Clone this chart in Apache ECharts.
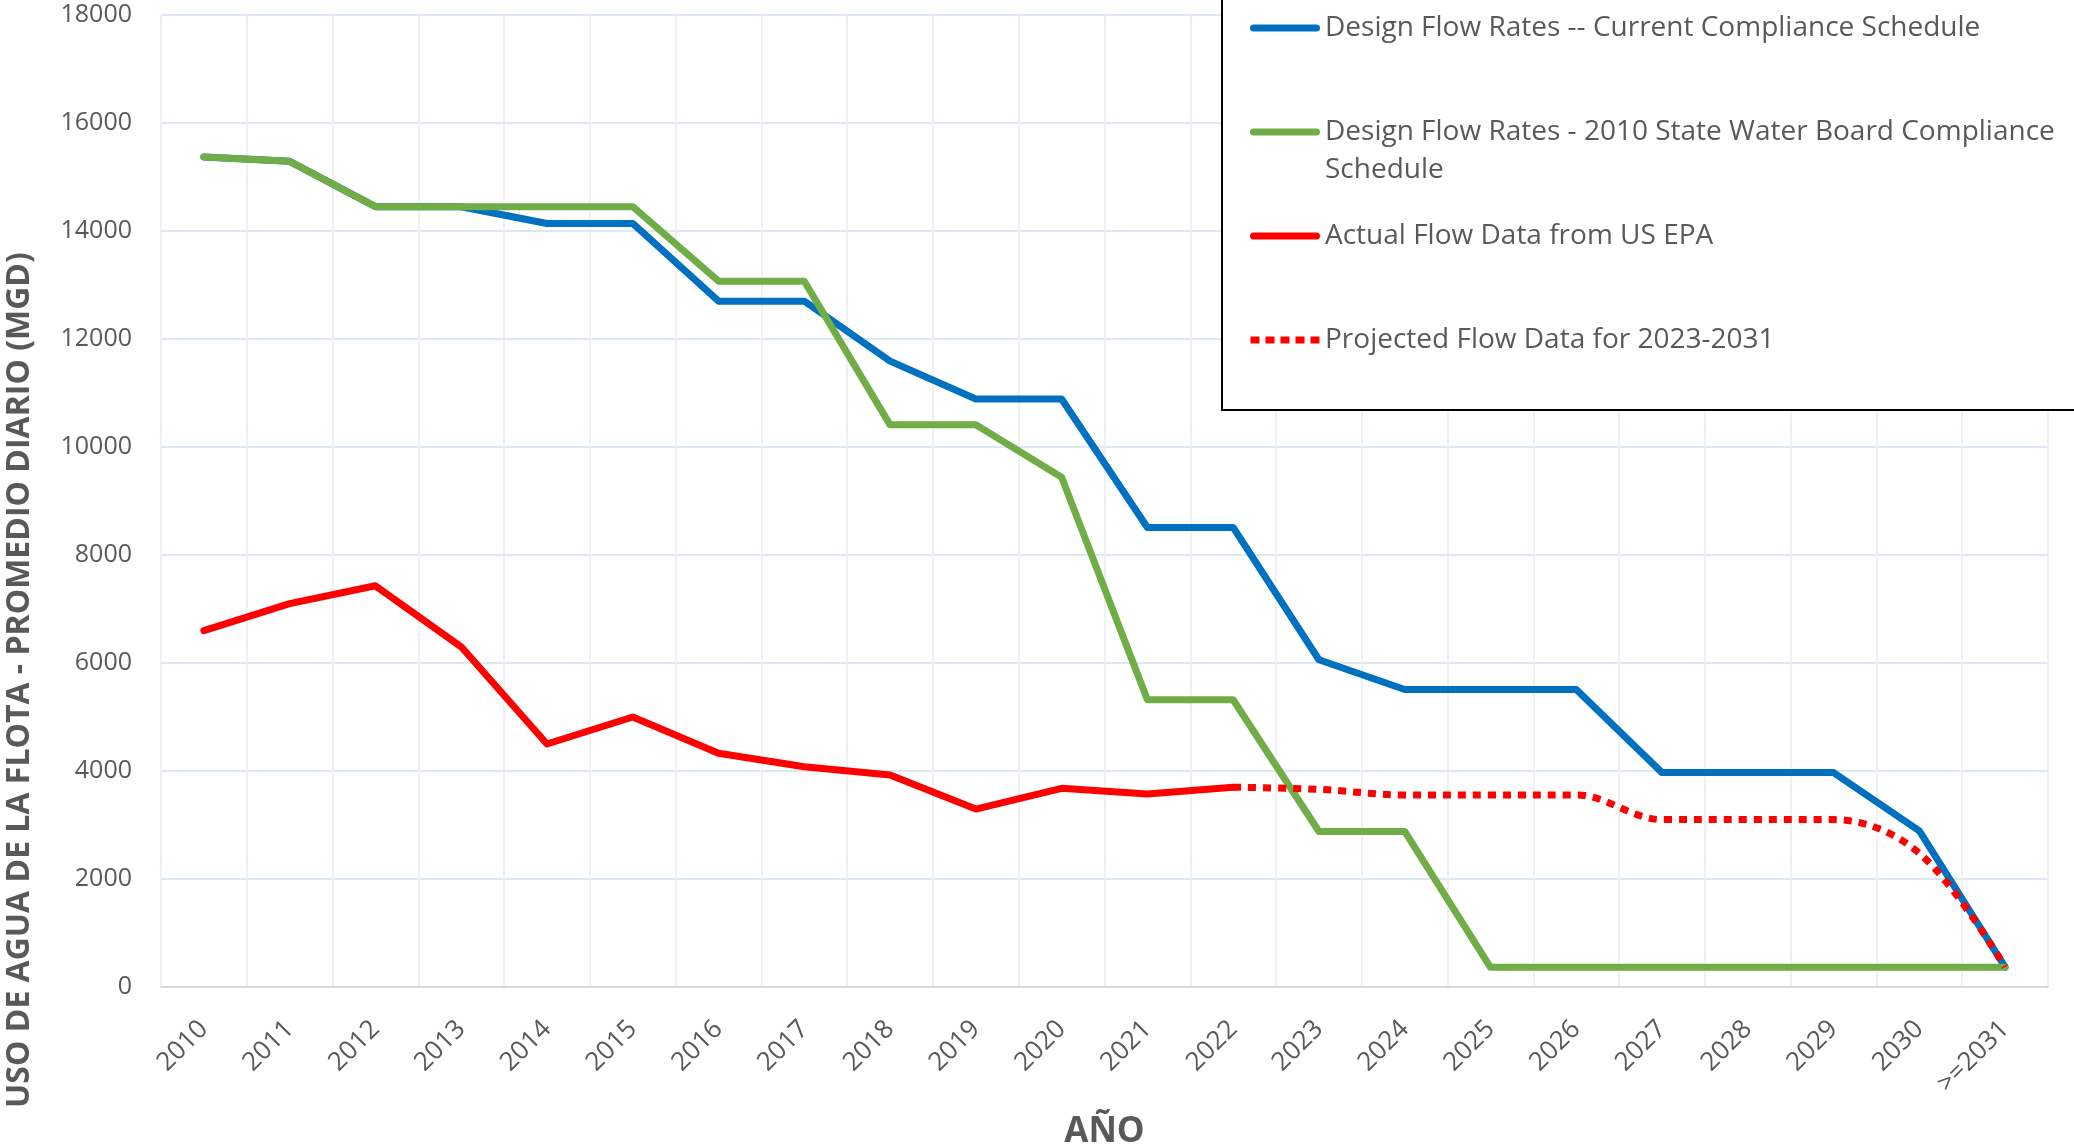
<!DOCTYPE html>
<html>
<head>
<meta charset="utf-8">
<script src="https://cdn.jsdelivr.net/npm/echarts@6/dist/echarts.min.js"></script>
<style>
  html, body { margin: 0; padding: 0; background: #fff; }
  #chart { width: 2074px; height: 1148px; }
</style>
</head>
<body>
<div id="chart"></div>
<script>
const years = ["2010", "2011", "2012", "2013", "2014", "2015", "2016", "2017", "2018", "2019", "2020",
  "2021", "2022", "2023", "2024", "2025", "2026", "2027", "2028", "2029", "2030", ">=2031"];

const currentSchedule = [15370, 15290, 14450, 14450, 14140, 14140, 12700, 12700, 11590, 10890, 10890,
  8510, 8510, 6060, 5510, 5510, 5510, 3970, 3970, 3970, 2890, 370];

const stateBoard2010 = [15370, 15290, 14450, 14450, 14450, 14450, 13070, 13070, 10410, 10410, 9440,
  5320, 5320, 2880, 2880, 365, 365, 365, 365, 365, 365, 365];

const actualEpa = [6600, 7100, 7430, 6300, 4500, 5000, 4330, 4080, 3925, 3295, 3680,
  3575, 3700, null, null, null, null, null, null, null, null, null];

const projected = [null, null, null, null, null, null, null, null, null, null, null,
  null, 3700, 3660, 3556, 3556, 3556, 3100, 3100, 3100, 2476, 370];

const names = [
  "Design Flow Rates -- Current Compliance Schedule",
  "Design Flow Rates - 2010 State Water Board Compliance Schedule",
  "Actual Flow Data from US EPA",
  "Projected Flow Data for 2023-2031"
];

const textColor = "#595959";
const font = "'Open Sans', 'Liberation Sans', sans-serif";
const lineW = 7;

// legend icons: rounded bar for solid lines, square dots for the projected one
const solidIcon = "path://M3.5,0H66.5A3.5,3.5,0,0,1,66.5,7H3.5A3.5,3.5,0,0,1,3.5,0Z";
const dotIcon = "path://M0,0H9V7H0Z M15,0H24V7H15Z M30,0H39V7H30Z M45,0H54V7H45Z M60,0H69V7H60Z";

// every legend entry is 3 lines tall so entries sit at an even pitch,
// the wrapped one uses its blank first line so the icon lines up with its first text line
const onePad = { padding: [38, 0, 38, 0] };

const chart = echarts.init(document.getElementById("chart"));

chart.setOption({
  animation: false,
  grid: { left: 161, right: 26, top: 15, bottom: 161, outerBoundsMode: "none" },
  xAxis: {
    type: "category",
    data: years,
    boundaryGap: true,
    name: "AÑO",
    nameLocation: "middle",
    nameGap: 128,
    nameTextStyle: { color: textColor, fontFamily: font, fontWeight: "bold", fontSize: 35 },
    axisLine: { show: true, lineStyle: { color: "#d9d9d9", width: 2 } },
    axisTick: { show: false },
    axisLabel: {
      interval: 0,
      rotate: 45,
      margin: 38,
      color: textColor,
      fontFamily: font,
      fontSize: 26
    },
    splitLine: { show: true, lineStyle: { color: "#ececf0", width: 1.5 } }
  },
  yAxis: {
    type: "value",
    min: 0,
    max: 18000,
    interval: 2000,
    axisLine: { show: false },
    axisTick: { show: false },
    axisLabel: {
      margin: 29,
      color: textColor,
      fontFamily: font,
      fontSize: 25,
      formatter: (v) => String(v)
    },
    splitLine: { lineStyle: { color: "#d3e0ef", width: 1.5 } }
  },
  legend: {
    orient: "vertical",
    left: 1222,
    top: -29,
    padding: [0, 120, 13, 28],
    itemGap: -10,
    itemWidth: 70,
    itemHeight: 7,
    z: 20,
    backgroundColor: "#fff",
    borderColor: "#000",
    borderWidth: 2,
    borderRadius: 0,
    data: [
      { name: names[0], icon: solidIcon, textStyle: onePad },
      { name: names[1], icon: solidIcon },
      { name: names[2], icon: solidIcon, textStyle: onePad },
      { name: names[3], icon: dotIcon, textStyle: onePad }
    ],
    formatter: (n) => n === names[1]
      ? "\nDesign Flow Rates - 2010 State Water Board Compliance\nSchedule"
      : n,
    textStyle: {
      color: textColor,
      fontFamily: font,
      fontSize: 28,
      lineHeight: 38
    }
  },
  graphic: [{
    type: "text",
    x: 20,
    y: 680,
    rotation: Math.PI / 2,
    style: {
      text: "USO DE AGUA DE LA FLOTA - PROMEDIO DIARIO (MGD)",
      font: "bold 32px " + font,
      fill: textColor,
      align: "center",
      verticalAlign: "middle"
    }
  }],
  series: [
    {
      name: names[0],
      type: "line",
      data: currentSchedule,
      symbol: "none",
      lineStyle: { color: "#0070c0", width: lineW, cap: "round", join: "round" },
      itemStyle: { color: "#0070c0" },
      z: 2
    },
    {
      name: names[1],
      type: "line",
      data: stateBoard2010,
      symbol: "none",
      lineStyle: { color: "#70ad47", width: lineW, cap: "round", join: "round" },
      itemStyle: { color: "#70ad47" },
      z: 3
    },
    {
      name: names[2],
      type: "line",
      data: actualEpa,
      symbol: "none",
      lineStyle: { color: "#ff0000", width: lineW, cap: "round", join: "round" },
      itemStyle: { color: "#ff0000" },
      z: 4
    },
    {
      name: names[3],
      type: "line",
      data: projected,
      symbol: "none",
      smooth: 0.35,
      lineStyle: { color: "#ff0000", width: lineW, type: [8, 7], cap: "butt" },
      itemStyle: { color: "#ff0000" },
      z: 5
    }
  ]
});
</script>
</body>
</html>
